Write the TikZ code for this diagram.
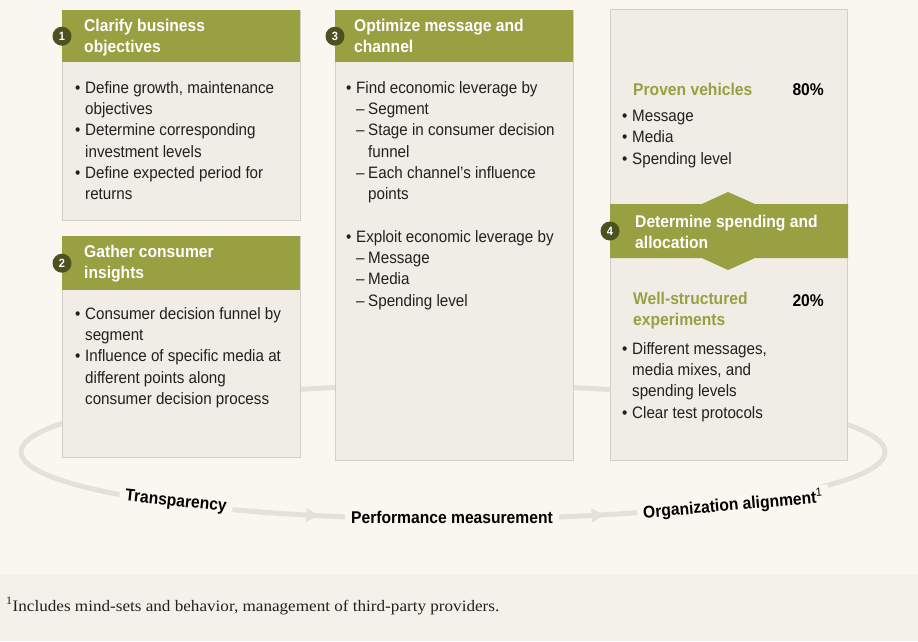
\documentclass[tikz,border=0pt]{standalone}
\usepackage{fontspec}
\setmainfont[FakeStretch=0.92]{Liberation Sans}
\newfontfamily\fnfont[FakeStretch=1.07]{Liberation Serif}
\usepackage{xcolor}
\usetikzlibrary{arrows.meta,decorations.markings}

\definecolor{bgc}{HTML}{F9F7F0}
\definecolor{footc}{HTML}{F3F1EA}
\definecolor{boxfill}{HTML}{F0EDE6}
\definecolor{boxline}{HTML}{D3CFC6}
\definecolor{headgreen}{HTML}{98A042}
\definecolor{numc}{HTML}{4B5220}
\definecolor{loopc}{HTML}{E4E1D6}
\definecolor{txtc}{HTML}{231F20}

\newcommand{\bitem}[1]{\makebox[10pt][l]{\textbullet}#1}
\newcommand{\bcont}[1]{\hspace*{10pt}#1}
\newcommand{\ditem}[1]{\hspace*{10pt}\makebox[12pt][l]{--}#1}
\newcommand{\dcont}[1]{\hspace*{22pt}#1}

\tikzset{
  boxbody/.style={draw=boxline, fill=boxfill, line width=0.8pt, anchor=north west, inner sep=0pt},
  headbar/.style={fill=headgreen, anchor=north west, inner sep=0pt},
  % first baseline sits at the given point
  firstbase/.style={align=left, inner sep=0pt, anchor=north west, yshift=14pt,
    execute at begin node={\rule{0pt}{14pt}}},
  headtxt/.style={firstbase, text=white, font=\fontsize{17}{21.3}\selectfont\bfseries},
  bodytxt/.style={firstbase, text=txtc, font=\fontsize{16.5}{21.3}\selectfont},
  subtxt/.style={firstbase, text=headgreen, font=\fontsize{17}{21.3}\selectfont\bfseries},
  pcttxt/.style={text=black, font=\fontsize{17}{21.3}\selectfont\bfseries, inner sep=0pt, anchor=base east},
  numdot/.style={circle, fill=numc, text=white, font=\fontsize{12}{12}\selectfont\bfseries, minimum size=19pt, inner sep=0pt},
  loopline/.style={draw=loopc, line width=5pt},
  looplbl/.style={fill=bgc, text=black, font=\fontsize{17}{19}\selectfont\bfseries, inner xsep=6pt, inner ysep=3pt},
}

\begin{document}
\begin{tikzpicture}[x=1pt,y=-1pt]
  \fill[bgc] (0,0) rectangle (918,641);
  \useasboundingbox (0,0) rectangle (918,641);
  \fill[footc] (0,574) rectangle (918,641);

  % loop behind the boxes
  \draw[loopline, postaction={decorate},
    decoration={markings,
      mark=at position 0.165 with {\arrowreversed{Triangle[length=13pt,width=13pt]}},
      mark=at position 0.325 with {\arrowreversed{Triangle[length=13pt,width=13pt]}}}]
    (453,452) ellipse [x radius=432, y radius=67];
  \node[looplbl, rotate=-6] (tr) at (176,502) {Transparency};
  \node[looplbl] (pm) at (452,517) {Performance measurement};
  \node[looplbl, rotate=5] (oa) at (733,505) {Organization alignment\textsuperscript{\mdseries 1}};

  % 1
  \node[boxbody, minimum width=238pt, minimum height=210pt] (b1) at (62,10) {};
  \node[headbar, minimum width=238pt, minimum height=52pt] (h1) at (b1.north west) {};
  \node[headtxt] (t1) at (84,33) {Clarify business\\objectives};
  \node[numdot] (n1) at (h1.west) {1};
  \node[bodytxt] (l1) at (75,95) {\bitem{Define growth, maintenance}\\\bcont{objectives}\\
    \bitem{Determine corresponding}\\\bcont{investment levels}\\
    \bitem{Define expected period for}\\\bcont{returns}};

  % 2
  \node[boxbody, minimum width=238pt, minimum height=221pt] (b2) at (62,236) {};
  \node[headbar, minimum width=238pt, minimum height=54pt] (h2) at (b2.north west) {};
  \node[headtxt] (t2) at (84,259) {Gather consumer\\insights};
  \node[numdot] (n2) at (h2.west) {2};
  \node[bodytxt] (l2) at (75,321) {\bitem{Consumer decision funnel by}\\\bcont{segment}\\
    \bitem{Influence of specific media at}\\\bcont{different points along}\\\bcont{consumer decision process}};

  % 3
  \node[boxbody, minimum width=238pt, minimum height=450pt] (b3) at (335,10) {};
  \node[headbar, minimum width=238pt, minimum height=52pt] (h3) at (b3.north west) {};
  \node[headtxt] (t3) at (354,33) {Optimize message and\\channel};
  \node[numdot] (n3) at (h3.west) {3};
  \node[bodytxt] (l3) at (346,95) {\bitem{Find economic leverage by}\\\ditem{Segment}\\
    \ditem{Stage in consumer decision}\\\dcont{funnel}\\
    \ditem{Each channel's influence}\\\dcont{points}\\ \mbox{}\\
    \bitem{Exploit economic leverage by}\\\ditem{Message}\\\ditem{Media}\\\ditem{Spending level}};

  % 4
  \node[boxbody, minimum width=237pt, minimum height=451pt] (b4) at (610,9) {};
  \fill[headgreen] (610,204) -- (702,204) -- (728,192) -- (755,204) -- (848,204)
    -- (848,258) -- (755,258) -- (728,270) -- (702,258) -- (610,258) -- cycle;
  \node[headtxt] (t4) at (635,229) {Determine spending and\\allocation};
  \node[numdot] (n4) at (610,231) {4};
  \node[subtxt] (pv) at (633,95) {Proven vehicles};
  \node[pcttxt] (p80) at (824,95) {80\%};
  \node[bodytxt] (l4a) at (622,124) {\bitem{Message}\\\bitem{Media}\\\bitem{Spending level}};
  \node[subtxt] (ws) at (633,306) {Well-structured\\experiments};
  \node[pcttxt] (p20) at (824,306) {20\%};
  \node[bodytxt] (l4b) at (622,356) {\bitem{Different messages,}\\\bcont{media mixes, and}\\
    \bcont{spending levels}\\\bitem{Clear test protocols}};

  % footnote
  \node[anchor=base west, inner sep=0pt, text=txtc, font=\fnfont\fontsize{16}{18}\selectfont] (fn) at (6,611)
    {\textsuperscript{1}Includes mind-sets and behavior, management of third-party providers.};
\end{tikzpicture}
\end{document}
